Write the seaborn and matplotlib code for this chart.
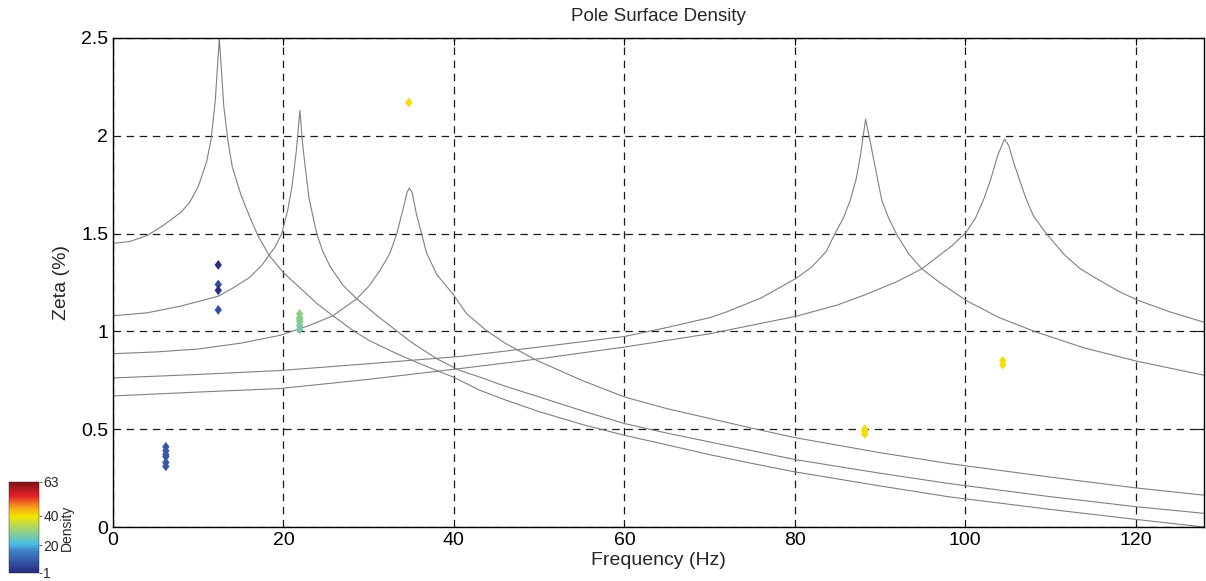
import matplotlib
matplotlib.use('Agg')
import matplotlib.pyplot as plt
import matplotlib.colors as mcolors
import matplotlib.cm as cm
import pandas as pd
import seaborn as sns

# gray model curves (frequency in Hz, zeta in %)
curve_a_f = [0, 2, 4, 6, 8, 9, 10, 11, 11.5, 12, 12.3, 12.47, 12.7, 13, 13.5, 14, 15, 16, 17, 18.3, 20, 22,
             24, 25.8, 28, 30, 33.3, 36, 40, 43, 46, 50, 55, 60, 65, 70, 75, 80, 90, 98, 110, 120, 128]
curve_a_z = [1.45, 1.46, 1.49, 1.545, 1.61, 1.66, 1.74, 1.87, 1.98, 2.18, 2.38, 2.5, 2.35, 2.15, 1.97, 1.84,
             1.7, 1.59, 1.49, 1.39, 1.30, 1.22, 1.14, 1.08, 1.01, 0.955, 0.886, 0.835, 0.765, 0.70, 0.65,
             0.59, 0.525, 0.469, 0.42, 0.37, 0.325, 0.282, 0.21, 0.155, 0.09, 0.039, 0.0]

curve_b_f = [0, 4, 8, 12.35, 14, 16, 17.5, 18.3, 19, 19.8, 20.5, 21, 21.5, 21.93, 22.2, 22.5, 23, 23.9, 24.6,
             25.5, 27, 28.6, 31, 35, 38, 40.7, 43, 46, 50, 55, 60, 65, 69, 75, 80, 90, 98, 110, 120, 128]
curve_b_z = [1.08, 1.095, 1.13, 1.18, 1.22, 1.275, 1.34, 1.39, 1.43, 1.5, 1.62, 1.74, 1.92, 2.13, 1.98, 1.86,
             1.68, 1.5, 1.41, 1.33, 1.235, 1.167, 1.08, 0.945, 0.86, 0.80, 0.767, 0.72, 0.665, 0.595, 0.529,
             0.48, 0.444, 0.39, 0.345, 0.275, 0.223, 0.155, 0.104, 0.07]

curve_c_f = [0, 5, 10, 15, 19.6, 23, 25.8, 28.6, 30, 31.3, 32.5, 33.3, 34, 34.5, 34.76, 35.1, 35.6, 36.2, 36.8,
             38, 39.9, 41.5, 43.8, 46, 49.7, 55, 60, 65, 70, 75, 80, 90, 98, 110, 120, 128]
curve_c_z = [0.886, 0.895, 0.91, 0.94, 0.98, 1.03, 1.08, 1.167, 1.23, 1.31, 1.4, 1.5, 1.62, 1.71, 1.733, 1.71,
             1.6, 1.5, 1.40, 1.29, 1.19, 1.09, 1.005, 0.94, 0.852, 0.75, 0.665, 0.605, 0.555, 0.505, 0.457,
             0.38, 0.325, 0.255, 0.2, 0.163]

curve_d_f = [0, 10, 19.6, 30, 40.7, 50, 60, 65, 70, 72, 76, 80.1, 82, 83.7, 84.7, 85.7, 86.5, 87.2, 87.7, 88.3,
             88.8, 89.2, 89.7, 90.2, 91, 91.9, 93.3, 94.9, 97, 100.1, 104, 108.3, 114, 120.2, 128]
curve_d_z = [0.762, 0.78, 0.80, 0.835, 0.872, 0.92, 0.974, 1.02, 1.07, 1.10, 1.17, 1.27, 1.33, 1.41, 1.5, 1.58,
             1.67, 1.78, 1.9, 2.085, 1.98, 1.89, 1.78, 1.67, 1.58, 1.5, 1.4, 1.32, 1.25, 1.158, 1.07, 0.997,
             0.915, 0.847, 0.776]

curve_e_f = [0, 10, 19.6, 30, 40.7, 50, 60, 70, 80.1, 85, 88.4, 92, 94.9, 97, 98.5, 100.1, 101.2, 102.1, 103,
             103.8, 104.6, 105.1, 105.7, 106.4, 107.2, 108, 109.5, 111.7, 113.5, 115.4, 118, 120.2, 124, 128]
curve_e_z = [0.67, 0.69, 0.708, 0.755, 0.81, 0.86, 0.92, 0.988, 1.077, 1.135, 1.19, 1.255, 1.32, 1.39, 1.44,
             1.507, 1.58, 1.668, 1.78, 1.9, 1.983, 1.95, 1.86, 1.77, 1.67, 1.59, 1.5, 1.388, 1.32, 1.27,
             1.205, 1.16, 1.1, 1.047]

# identified poles and their density
pole_f = [6.2] * 6 + [12.35] * 4 + [21.9] * 6 + [34.7] + [88.2] * 3 + [104.4] * 2
pole_z = [0.41, 0.39, 0.37, 0.36, 0.33, 0.31,
          1.34, 1.24, 1.21, 1.11,
          1.09, 1.07, 1.06, 1.05, 1.03, 1.01,
          2.17,
          0.50, 0.49, 0.475,
          0.85, 0.83]
pole_density = [9] * 6 + [2, 7, 2, 8] + [29, 29, 28, 28, 27, 26] + [40] + [40] * 3 + [40] * 2

cbar_ticks = [1, 20, 40, 63]

sns.set_style('white')
plt.rcParams['font.family'] = ['Liberation Sans', 'DejaVu Sans']

cmap = mcolors.LinearSegmentedColormap.from_list('density', [
    (0.0, '#2a2a7a'), (0.12, '#3454a4'), (0.25, '#3d86c6'), (0.32, '#4bbde6'),
    (0.42, '#80cc9a'), (0.52, '#b6d756'), (0.62, '#f2e600'), (0.72, '#f7a21b'),
    (0.85, '#e41e26'), (1.0, '#7f1416')])
norm = mcolors.Normalize(vmin=1, vmax=63)

# slightly tall diamond, like the matlab marker
diamond = [(0, 1), (0.75, 0), (0, -1), (-0.75, 0), (0, 1)]

fig = plt.figure(figsize=(12.06, 5.81), dpi=100)
ax = fig.add_axes([0.0937, 0.0929, 0.9046, 0.8417])

for f, z in [(curve_a_f, curve_a_z), (curve_b_f, curve_b_z), (curve_c_f, curve_c_z),
             (curve_d_f, curve_d_z), (curve_e_f, curve_e_z)]:
    sns.lineplot(x=f, y=z, ax=ax, color='#808080', linewidth=0.8, estimator=None, sort=False)

poles = pd.DataFrame({'f': pole_f, 'z': pole_z, 'density': pole_density})
sns.scatterplot(data=poles, x='f', y='z', hue='density', palette=cmap, hue_norm=norm,
                marker=diamond, s=50, linewidth=0, legend=False, ax=ax, zorder=3)

ax.set_xlim(0, 128)
ax.set_ylim(0, 2.5)
ax.set_xticks([0, 20, 40, 60, 80, 100, 120])
ax.set_yticks([0, 0.5, 1, 1.5, 2, 2.5])
ax.set_yticklabels(['0', '0.5', '1', '1.5', '2', '2.5'])
ax.grid(True, color='#1a1a1a', linestyle=(0, (6, 4.5)), linewidth=0.9)
ax.tick_params(direction='in', top=True, right=True, length=5, width=0.8, labelsize=14, colors='black')
for sp in ax.spines.values():
    sp.set_color('black')
    sp.set_linewidth(1.0)
ax.set_title('Pole Surface Density', fontsize=13.5, pad=12)
ax.set_xlabel('Frequency (Hz)', fontsize=14, labelpad=2)
ax.set_ylabel('Zeta (%)', fontsize=14, labelpad=8)

cax = fig.add_axes([0.0075, 0.0138, 0.0249, 0.1566])
sm = cm.ScalarMappable(norm=norm, cmap=cmap)
cb = fig.colorbar(sm, cax=cax, ticks=cbar_ticks)
cb.outline.set_linewidth(0.3)
cb.ax.tick_params(labelsize=10, length=2, width=0.5, pad=1)
cb.set_label('Density', fontsize=10, labelpad=1)

fig.savefig('out.png', dpi=100)
